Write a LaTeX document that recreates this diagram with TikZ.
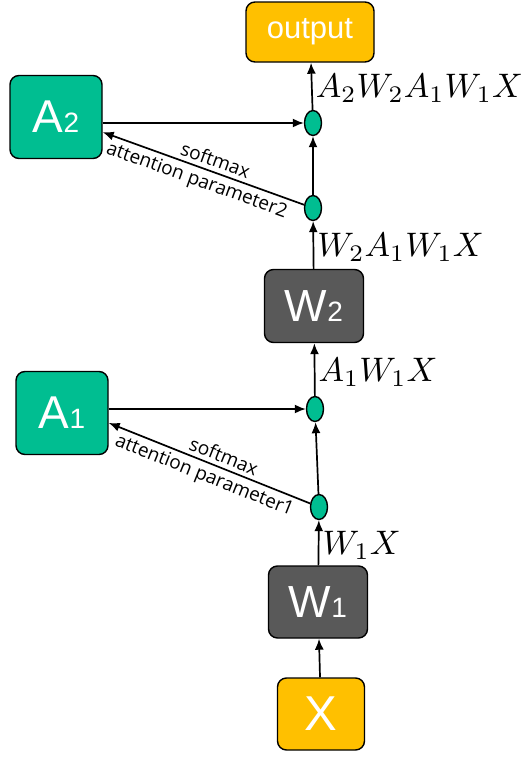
\documentclass[tikz,border=0pt]{standalone}
\usepackage{fontspec}
\usepackage{tikz}
\usetikzlibrary{shapes,arrows,arrows.meta,positioning}
\newfontfamily\boxfont{Liberation Sans}
\newfontfamily\notefont{Open Sans}
\definecolor{attgreen}{RGB}{0,190,145}
\definecolor{iogold}{RGB}{255,192,0}
\definecolor{wgray}{RGB}{89,89,89}
\newcommand{\boxsub}[1]{{\fontsize{28}{28}\selectfont #1}}

\begin{document}
\begin{tikzpicture}[x=1pt,y=-1pt,
		box/.style={draw,rounded corners=9pt,line width=1.4pt,text=white,inner sep=0pt},
		dot/.style={draw,ellipse,fill=attgreen,line width=1.4pt,minimum width=17pt,minimum height=25pt,inner sep=0pt},
		flow/.style={->,line width=1.7pt,>={Latex[length=11pt,width=9pt]}},
		note/.style={font=\notefont\fontsize{19}{19}\selectfont,sloped,inner sep=4pt},
		prod/.style={pos=0.45,right,inner sep=0.3pt,scale=3.4}]
		\useasboundingbox (0,0) rectangle (524,769);
		\node[box,fill=iogold,minimum width=128pt,minimum height=60pt,font=\boxfont\fontsize{31}{31}\selectfont] (out) at (310,32) {output};
		\node[box,fill=attgreen,minimum width=92pt,minimum height=83pt,font=\boxfont\fontsize{46}{46}\selectfont] (a2) at (56,117) {A\boxsub{2}};
		\node[dot] (mix2) at (313,123) {};
		\node[dot] (att2) at (313,208) {};
		\node[box,fill=wgray,minimum width=99pt,minimum height=73pt,font=\boxfont\fontsize{45}{45}\selectfont] (w2) at (314,306) {W\boxsub{2}};
		\node[box,fill=attgreen,minimum width=92pt,minimum height=83pt,font=\boxfont\fontsize{46}{46}\selectfont] (a1) at (62,413) {A\boxsub{1}};
		\node[dot] (mix1) at (315,409) {};
		\node[dot] (att1) at (319,507) {};
		\node[box,fill=wgray,minimum width=99pt,minimum height=72pt,font=\boxfont\fontsize{45}{45}\selectfont] (w1) at (318,602) {W\boxsub{1}};
		\node[box,fill=iogold,minimum width=87pt,minimum height=72pt,font=\boxfont\fontsize{49}{49}\selectfont] (x) at (321,714) {X};
		% main path
		\draw [flow] (x)--(w1);
		\draw [flow] (w1)--(att1) node [prod] {$W_1X$};
		\draw [flow] (att1)--(mix1);
		\draw [flow] (mix1)--(w2) node [prod] {$A_1W_1X$};
		\draw [flow] (w2)--(att2) node [prod] {$W_2A_1W_1X$};
		\draw [flow] (att2)--(mix2);
		\draw [flow] (mix2)--(out) node [prod] {$A_2W_2A_1W_1X$};
		% attention branches:
		\draw [flow] (att1)--(a1.-12) node [note,pos=0.45,above] {softmax} node [note,pos=0.5,below] {attention parameter1};
		\draw [flow] (a1.east |- mix1)--(mix1);
		\draw [flow] (att2)--(a2.-18) node [note,pos=0.46,above] {softmax} node [note,pos=0.51,below] {attention parameter2};
		\draw [flow] (a2.east |- mix2)--(mix2);
\end{tikzpicture}
\end{document}
